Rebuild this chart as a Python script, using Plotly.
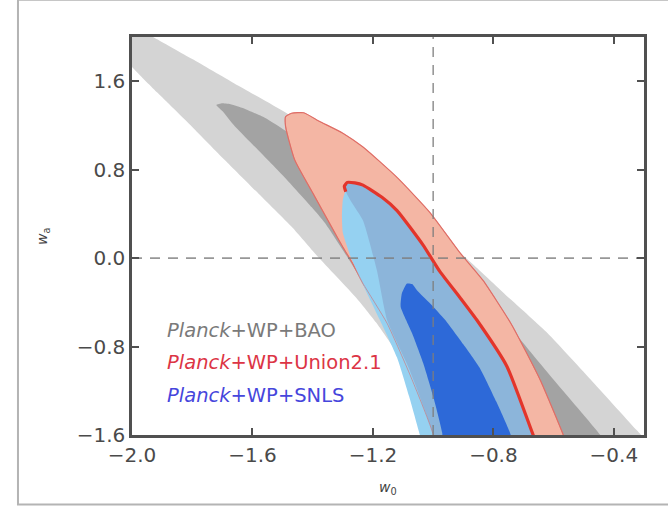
import plotly.graph_objects as go

# ---------------- axes / reference values ----------------
x_range = [-2.0, -0.3]
y_range = [-1.6, 2.0]
x_ticks = [-2.0, -1.6, -1.2, -0.8, -0.4]
y_ticks = [-1.6, -0.8, 0.0, 0.8, 1.6]
w0_fiducial = -1.0
wa_fiducial = 0.0

# ---------------- Planck+WP+BAO (95% and 68%) ----------------
bao95_w0 = [-2.04, -1.99, -1.93, -1.80, -1.66, -1.48, -1.25, -1.05, -0.87, -0.74, -0.62, -0.47, -0.323, -0.29, -0.27,
            -0.60, -0.98,
            -1.00, -1.06, -1.12, -1.19, -1.255, -1.382, -1.469, -1.582, -1.692, -1.80, -1.915, -1.99, -2.05, -2.10, -2.12]
bao95_wa = [2.18, 2.09, 2.00, 1.80, 1.58, 1.30, 0.84, 0.38, -0.05, -0.38, -0.68, -1.12, -1.56, -1.66, -1.72,
            -1.85, -1.80,
            -1.60, -1.20, -0.86, -0.58, -0.36, 0.01, 0.281, 0.589, 0.888, 1.187, 1.495, 1.70, 1.87, 2.00, 2.15]

bao68_w0 = [-1.72, -1.70, -1.67, -1.635, -1.559, -1.483, -1.30, -1.05, -0.88, -0.745, -0.60, -0.445, -0.41,
            -0.95,
            -0.95, -1.10, -1.26, -1.36, -1.403, -1.493, -1.582, -1.658, -1.70]
bao68_wa = [1.385, 1.40, 1.39, 1.36, 1.27, 1.14, 0.80, 0.30, -0.15, -0.62, -1.10, -1.60, -1.75,
            -1.78,
            -1.60, -0.90, -0.10, 0.32, 0.46, 0.73, 0.98, 1.19, 1.33]

# ---------------- Planck+WP+Union2.1 ----------------
union95_w0 = [-1.49, -1.47, -1.43, -1.38, -1.30, -1.233, -1.12, -1.01, -0.91, -0.835, -0.74, -0.645, -0.568, -0.55,
              -1.00,
              -1.00, -1.07, -1.153, -1.233, -1.267, -1.30, -1.337, -1.40, -1.46, -1.49]
union95_wa = [1.28, 1.31, 1.315, 1.24, 1.13, 1.005, 0.73, 0.41, 0.045, -0.20, -0.60, -1.10, -1.60, -1.75,
              -1.78,
              -1.60, -1.10, -0.59, -0.23, -0.05, 0.10, 0.28, 0.59, 0.89, 1.19]

union68_right_w0 = [-1.285, -1.26, -1.233, -1.17, -1.12, -1.034, -0.978, -0.91, -0.855, -0.755, -0.668, -0.645]
union68_right_wa = [0.685, 0.68, 0.66, 0.55, 0.43, 0.12, -0.12, -0.36, -0.56, -0.98, -1.60, -1.75]
union68_left_w0 = [-1.00, -1.00, -1.08, -1.153, -1.187, -1.233, -1.27, -1.29, -1.295]
union68_left_wa = [-1.75, -1.60, -1.00, -0.56, -0.11, 0.34, 0.50, 0.60, 0.65]

# ---------------- Planck+WP+SNLS ----------------
snls95_left_w0 = [-1.276, -1.292, -1.30, -1.303, -1.30, -1.275, -1.24, -1.177, -1.12, -1.08, -1.044, -1.03]
snls95_left_wa = [0.64, 0.60, 0.525, 0.38, 0.23, 0.02, -0.20, -0.56, -0.90, -1.25, -1.60, -1.75]

snls68_w0 = [-1.087, -1.07, -1.054, -1.01, -0.96, -0.90, -0.844, -0.79, -0.745, -0.73,
             -0.965,
             -0.97, -1.00, -1.033, -1.07, -1.09, -1.108, -1.104]
snls68_wa = [-0.23, -0.235, -0.29, -0.41, -0.56, -0.78, -1.00, -1.30, -1.58, -1.75,
             -1.75,
             -1.58, -1.25, -0.95, -0.68, -0.56, -0.44, -0.32]

labels = ["<i>Planck</i>+WP+BAO", "<i>Planck</i>+WP+Union2.1", "<i>Planck</i>+WP+SNLS"]
label_colors = ["#7a7a7a", "#dc3545", "#4646dc"]

# ---------------- build polygons ----------------
def closed(xs, ys):
    return list(xs) + [xs[0]], list(ys) + [ys[0]]

union68_w0 = union68_right_w0 + union68_left_w0
union68_wa = union68_right_wa + union68_left_wa
snls95_w0 = snls95_left_w0 + union68_right_w0[::-1]
snls95_wa = snls95_left_wa + union68_right_wa[::-1]
red_line_w0 = union68_left_w0[-2:] + union68_right_w0
red_line_wa = union68_left_wa[-2:] + union68_right_wa

SMOOTH = 0.5
fig = go.Figure()

def add_fill(xs, ys, fill, line_color=None, line_width=0):
    cx, cy = closed(xs, ys)
    fig.add_trace(go.Scatter(
        x=cx, y=cy, mode="lines", fill="toself", fillcolor=fill,
        line=dict(color=line_color or fill, width=line_width, shape="spline", smoothing=SMOOTH),
        hoverinfo="skip", showlegend=False))

add_fill(bao95_w0, bao95_wa, "#d4d4d4")
add_fill(bao68_w0, bao68_wa, "#a3a3a3")
add_fill(union95_w0, union95_wa, "#f4b6a4", "#e5776b", 1.2)
add_fill(snls95_w0, snls95_wa, "#95d1f1")
add_fill(union68_w0, union68_wa, "#8cb5da")

# thick red 68% Union edge
fig.add_trace(go.Scatter(x=red_line_w0, y=red_line_wa, mode="lines",
                         line=dict(color="#e3352b", width=3.2, shape="spline", smoothing=SMOOTH),
                         hoverinfo="skip", showlegend=False))
# faint Union 95% outline over the blue
ux, uy = closed(union95_w0, union95_wa)
fig.add_trace(go.Scatter(x=ux, y=uy, mode="lines",
                         line=dict(color="rgba(215,100,100,0.55)", width=1, shape="spline", smoothing=SMOOTH),
                         hoverinfo="skip", showlegend=False))
add_fill(snls68_w0, snls68_wa, "#2d69d8")

# fiducial dashed lines
fig.add_trace(go.Scatter(x=[w0_fiducial, w0_fiducial], y=y_range, mode="lines",
                         line=dict(color="rgba(125,125,125,0.8)", width=1.6, dash="10px,8px"),
                         hoverinfo="skip", showlegend=False))
fig.add_trace(go.Scatter(x=x_range, y=[wa_fiducial, wa_fiducial], mode="lines",
                         line=dict(color="rgba(125,125,125,0.8)", width=1.6, dash="10px,8px"),
                         hoverinfo="skip", showlegend=False))

axis_common = dict(
    showline=True, linecolor="#505050", linewidth=2.5, mirror="allticks",
    ticks="inside", ticklen=7, tickwidth=1.5, tickcolor="#505050",
    showgrid=False, zeroline=False, tickformat=".1f",
    tickfont=dict(family="DejaVu Sans", size=20, color="#4a4a4a"),
)
fig.update_xaxes(range=x_range, tickvals=x_ticks, **axis_common)
fig.update_yaxes(range=y_range, tickvals=y_ticks, **axis_common)

annotations = []
label_y = [0.263, 0.183, 0.0997]
for txt, col, yy in zip(labels, label_colors, label_y):
    annotations.append(dict(text=txt, xref="paper", yref="paper", x=0.0645, y=yy,
                            xanchor="left", yanchor="middle", showarrow=False,
                            font=dict(family="DejaVu Sans", size=19.5, color=col)))
annotations.append(dict(text="<i>w</i><sub>0</sub>", xref="paper", yref="paper", x=0.5, y=-0.134,
                        xanchor="center", yanchor="middle", showarrow=False,
                        font=dict(family="DejaVu Sans", size=14, color="#444444")))
annotations.append(dict(text="<i>w</i><sub>a</sub>", xref="paper", yref="paper", x=-0.174, y=0.5,
                        xanchor="center", yanchor="middle", showarrow=False, textangle=-90,
                        font=dict(family="DejaVu Sans", size=14, color="#444444")))

fig.update_layout(
    width=668, height=508,
    margin=dict(l=132, r=24, t=37, b=73),
    plot_bgcolor="white", paper_bgcolor="white",
    showlegend=False,
    annotations=annotations,
    shapes=[dict(type="rect", xref="paper", yref="paper", x0=-0.2227, x1=1.06, y0=-0.1746, y1=1.0935,
                 line=dict(color="#b4b4b4", width=2), layer="below")],
)

fig.write_html("out.html")
